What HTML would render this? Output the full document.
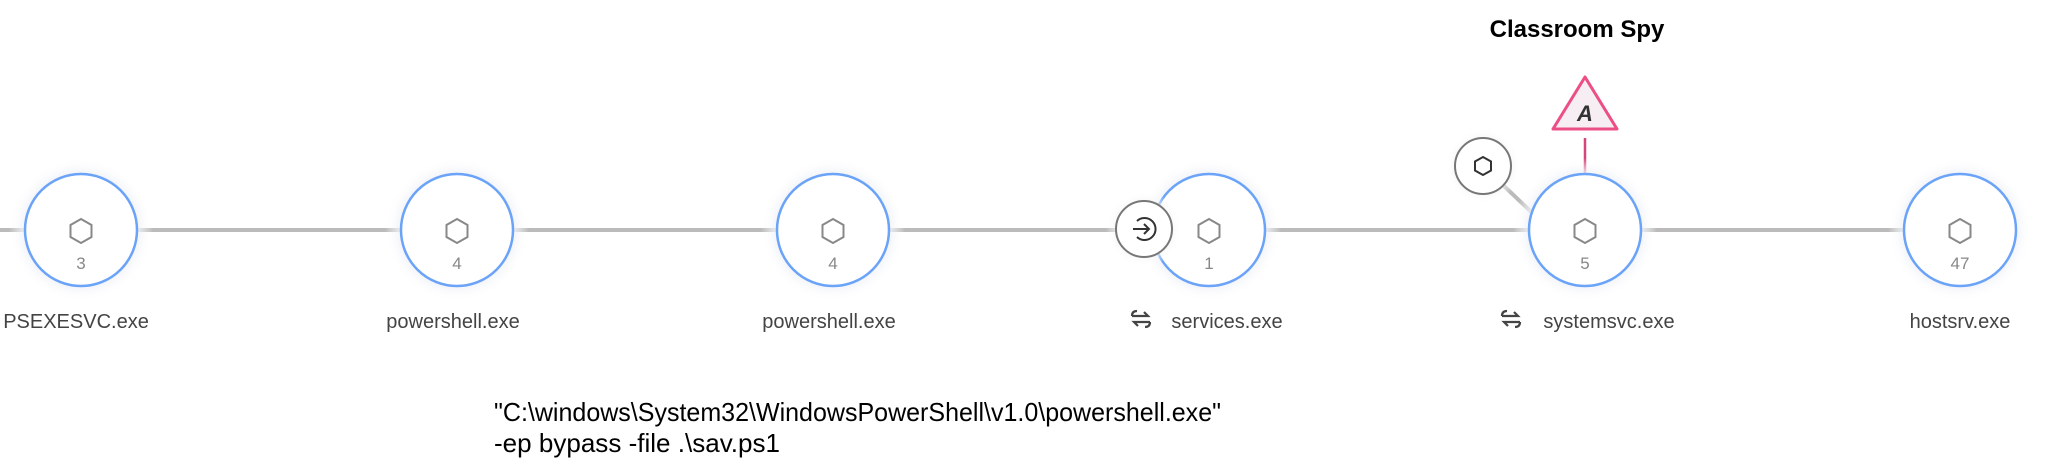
<!DOCTYPE html>
<html><head><meta charset="utf-8"><style>
html,body{margin:0;padding:0;background:#fff;}
svg{display:block;}
.lbl{font-family:"Liberation Sans",sans-serif;font-size:20px;fill:#444;text-anchor:middle;}
.num{font-family:"Liberation Sans",sans-serif;font-size:17px;fill:#888;text-anchor:middle;}
</style></head><body>
<svg width="2048" height="474" viewBox="0 0 2048 474" xmlns="http://www.w3.org/2000/svg">
<defs>
<radialGradient id="halo"><stop offset="0.75" stop-color="#eef0f6"/><stop offset="1" stop-color="#fff" stop-opacity="0"/></radialGradient>
<radialGradient id="halo2"><stop offset="0.6" stop-color="#efefef"/><stop offset="1" stop-color="#fff" stop-opacity="0"/></radialGradient>
<g id="hex"><polygon points="0,-12 10.5,-6 10.5,6 0,12 -10.5,6 -10.5,-6" fill="none" stroke="#888" stroke-width="2"/></g>
</defs>
<line x1="0" y1="230" x2="1960" y2="230" stroke="#bbb" stroke-width="4"/>
<line x1="1483" y1="166" x2="1545" y2="225" stroke="#bbb" stroke-width="4"/>
<line x1="1585" y1="138" x2="1585" y2="174" stroke="#d6457a" stroke-width="2.5"/>
<g>
<circle cx="81" cy="230" r="72" fill="url(#halo)"/>
<circle cx="457" cy="230" r="72" fill="url(#halo)"/>
<circle cx="833" cy="230" r="72" fill="url(#halo)"/>
<circle cx="1209" cy="230" r="72" fill="url(#halo)"/>
<circle cx="1585" cy="230" r="72" fill="url(#halo)"/>
<circle cx="1960" cy="230" r="72" fill="url(#halo)"/>
</g>
<g fill="#fff" stroke="#6aa3f8" stroke-width="2.5">
<circle cx="81" cy="230" r="56"/>
<circle cx="457" cy="230" r="56"/>
<circle cx="833" cy="230" r="56"/>
<circle cx="1209" cy="230" r="56"/>
<circle cx="1585" cy="230" r="56"/>
<circle cx="1960" cy="230" r="56"/>
</g>
<use href="#hex" x="81" y="231"/><use href="#hex" x="457" y="231"/><use href="#hex" x="833" y="231"/>
<use href="#hex" x="1209" y="231"/><use href="#hex" x="1585" y="231"/><use href="#hex" x="1960" y="231"/>
<text class="num" x="81" y="269">3</text>
<text class="num" x="457" y="269">4</text>
<text class="num" x="833" y="269">4</text>
<text class="num" x="1209" y="269">1</text>
<text class="num" x="1585" y="269">5</text>
<text class="num" x="1960" y="269">47</text>
<circle cx="1144" cy="229" r="38" fill="url(#halo2)"/>
<circle cx="1144" cy="229" r="28" fill="#fff" stroke="#777" stroke-width="2"/>
<path d="M1137,221 A11,11 0 1 1 1137,237" fill="none" stroke="#333" stroke-width="2"/>
<line x1="1133" y1="229" x2="1149" y2="229" stroke="#333" stroke-width="2"/>
<polyline points="1144,224 1149,229 1144,234" fill="none" stroke="#333" stroke-width="2"/>
<circle cx="1483" cy="166" r="38" fill="url(#halo2)"/>
<circle cx="1483" cy="166" r="28" fill="#fff" stroke="#777" stroke-width="2"/>
<polygon points="1483,157 1491,161.5 1491,170.5 1483,175 1475,170.5 1475,161.5" fill="none" stroke="#333" stroke-width="2"/>
<polygon points="1585,77 1617,129 1553,129" fill="#f6eef2" stroke="#ec4f86" stroke-width="3" stroke-linejoin="round"/>
<text x="1585" y="121" font-family="Liberation Sans,sans-serif" font-size="22" font-weight="bold" font-style="italic" fill="#333" text-anchor="middle">A</text>
<text x="1577" y="37" font-family="Liberation Sans,sans-serif" font-size="24" font-weight="bold" fill="#000" text-anchor="middle">Classroom Spy</text>
<text class="lbl" x="76" y="328">PSEXESVC.exe</text>
<text class="lbl" x="453" y="328">powershell.exe</text>
<text class="lbl" x="829" y="328">powershell.exe</text>
<text class="lbl" x="1227" y="328">services.exe</text>
<text class="lbl" x="1609" y="328">systemsvc.exe</text>
<text class="lbl" x="1960" y="328">hostsrv.exe</text>
<g fill="none" stroke="#444" stroke-width="2.2">
<path d="M1132,316 h16 l-4,-4"/><path d="M1132,316 q0,-5 5,-5"/>
<path d="M1150,322 h-16 l4,4"/><path d="M1150,322 q0,5 -5,5"/>
<path d="M1502,316 h16 l-4,-4"/><path d="M1502,316 q0,-5 5,-5"/>
<path d="M1520,322 h-16 l4,4"/><path d="M1520,322 q0,5 -5,5"/>
</g>
<text x="494" y="421" font-family="Liberation Sans,sans-serif" font-size="26" fill="#000" textLength="727" lengthAdjust="spacingAndGlyphs">"C:\windows\System32\WindowsPowerShell\v1.0\powershell.exe"</text>
<text x="494" y="452" font-family="Liberation Sans,sans-serif" font-size="26" fill="#000" textLength="286" lengthAdjust="spacingAndGlyphs">-ep bypass -file .\sav.ps1</text>
</svg>
</body></html>
